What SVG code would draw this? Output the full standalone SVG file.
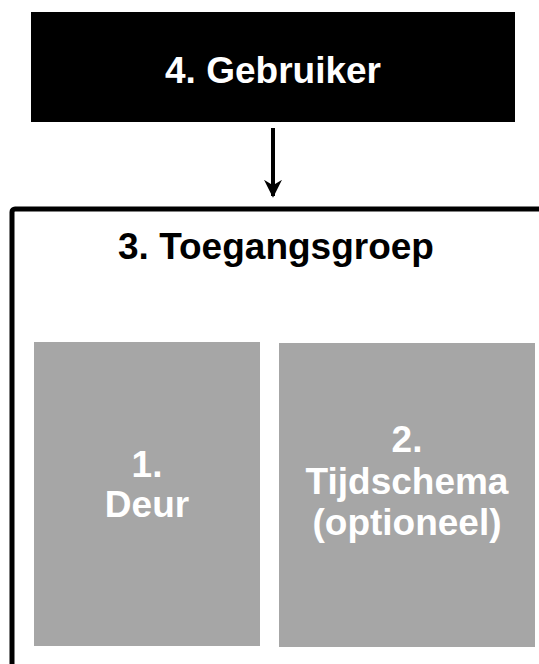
<svg xmlns="http://www.w3.org/2000/svg" width="539" height="664" viewBox="0 0 539 664">
<style>
.t{font-family:"Liberation Sans",Arial,sans-serif;font-weight:bold;font-size:37px;text-anchor:middle}
.w{fill:#ffffff}
.k{fill:#000000}
.g{fill:#a6a6a6}
</style>
<defs>
<marker id="ah" viewBox="0 0 10 10" refX="9" refY="5" markerWidth="4.5" markerHeight="4.5" orient="auto" markerUnits="strokeWidth">
<path d="M0,0 L10,5 L0,10 L3,5 z" fill="#000"/>
</marker>
</defs>
<rect width="539" height="664" fill="#ffffff"/>
<g id="node-gebruiker">
<rect x="31" y="12" width="484" height="110" class="k"/>
<text x="273" y="83" class="t w">4. Gebruiker</text>
</g>
<g id="connectors">
<line x1="273" y1="128" x2="273" y2="196" stroke="#000" stroke-width="4" marker-end="url(#ah)"/>
</g>
<g id="node-toegangsgroep">
<rect x="12" y="209" width="560" height="500" rx="3" fill="none" stroke="#000" stroke-width="5"/>
<text x="276" y="259" class="t k">3. Toegangsgroep</text>
</g>
<g id="node-deur">
<rect x="34" y="342" width="226" height="304" class="g"/>
<text x="147" y="477" class="t w">1.</text>
<text x="147" y="517" class="t w">Deur</text>
</g>
<g id="node-tijdschema">
<rect x="279" y="343" width="256" height="304" class="g"/>
<text x="407" y="452" class="t w">2.</text>
<text x="407" y="494" class="t w">Tijdschema</text>
<text x="407" y="535" class="t w">(optioneel)</text>
</g>
</svg>
